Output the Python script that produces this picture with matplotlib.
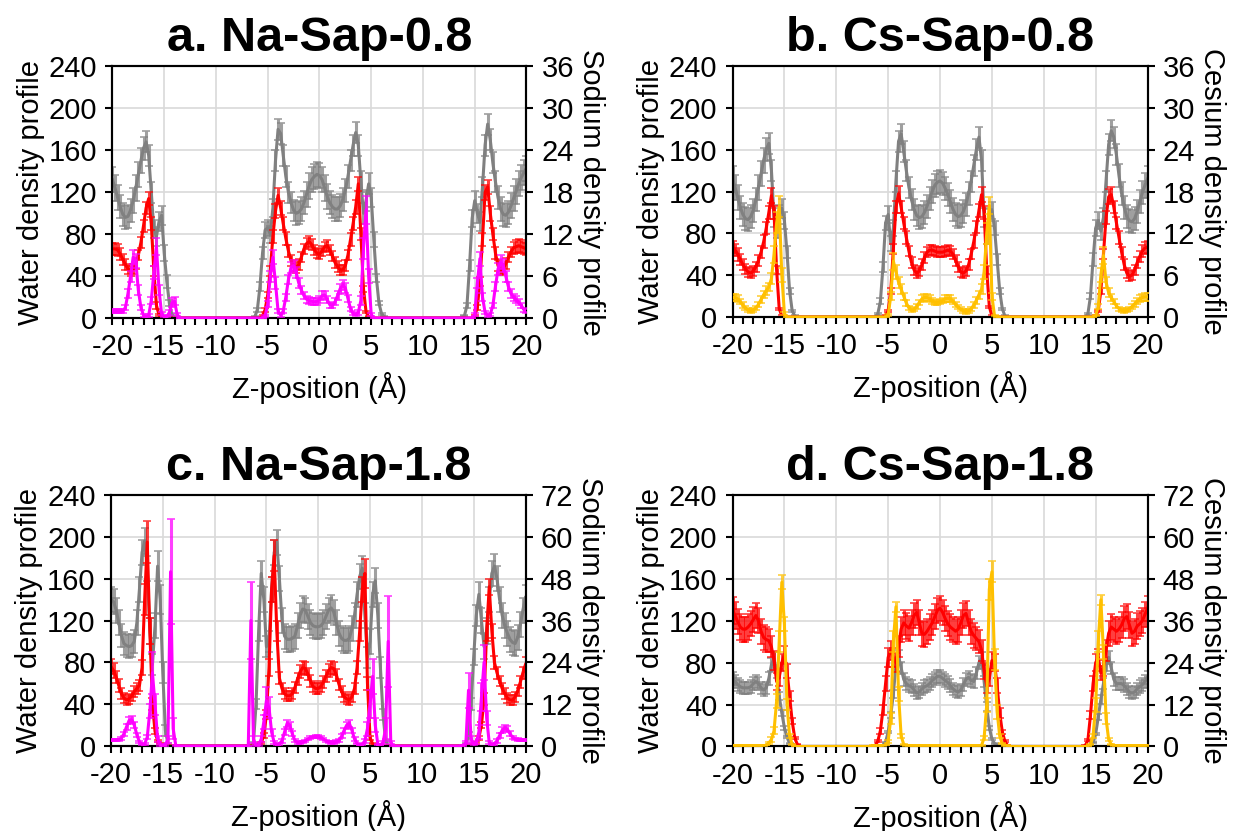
import numpy as np
import matplotlib.pyplot as plt
from matplotlib.colors import to_rgba
from matplotlib.ticker import MultipleLocator

plt.rcParams['font.family'] = 'Liberation Sans'
plt.rcParams['axes.unicode_minus'] = False

# z grid (Å), 0.25 Å bins
z = np.linspace(-20, 20, 161)

# ---------------- a. Na-Sap-0.8 ----------------
a_grey = [
    132, 124, 115, 106, 99, 96, 97, 103, 112, 124, 137, 150, 162, 168, 155, 120, 85, 78, 92, 98, 62, 35, 14, 3, 0, 0,
    0, 0, 0, 0, 0, 0, 0, 0, 0, 0, 0, 0, 0, 0, 0, 0, 0, 0, 0, 0, 0, 0, 0, 0, 0, 0, 0, 0,
    0, 1, 8, 30, 62, 84, 86, 80, 105, 150, 180, 176, 155, 135, 120, 110, 103, 100, 101, 104,
    110, 118, 126, 132, 135, 137, 136, 132, 124, 116, 110, 106, 104, 104, 107, 113, 122, 135, 150, 165,
    177, 165, 130, 100, 112, 128, 115, 75, 38, 14, 4, 1, 0,
    0, 0, 0, 0, 0, 0, 0, 0, 0, 0, 0, 0, 0, 0, 0, 0, 0, 0, 0, 0, 0, 0, 0, 0, 0, 0, 0, 0,
    0, 2, 12, 50, 95, 112, 100, 92, 125, 165, 185, 170, 148, 130, 115, 104, 99, 98, 101, 107, 114, 121, 128, 134, 139, 143,
]
a_grey_err = [
    12, 12, 12, 11, 11, 11, 11, 11, 12, 12, 12, 12, 11, 10, 10, 10, 9, 9, 9, 9, 8, 6, 3, 1, 0, 0,
    0, 0, 0, 0, 0, 0, 0, 0, 0, 0, 0, 0, 0, 0, 0, 0, 0, 0, 0, 0, 0, 0, 0, 0, 0, 0, 0, 0,
    0, 0.5, 2, 4, 6, 8, 8, 8, 9, 10, 10, 10, 10, 10, 10, 10, 10, 11, 11, 11,
    11, 12, 12, 12, 12, 12, 12, 12, 12, 12, 11, 11, 11, 11, 11, 11, 11, 11, 10, 10,
    10, 10, 10, 10, 10, 10, 9, 7, 4, 2, 1, 0.5, 0,
    0, 0, 0, 0, 0, 0, 0, 0, 0, 0, 0, 0, 0, 0, 0, 0, 0, 0, 0, 0, 0, 0, 0, 0, 0, 0, 0, 0,
    0, 0.5, 2, 5, 8, 9, 9, 9, 10, 10, 10, 10, 10, 10, 11, 11, 11, 11, 11, 12, 12, 12, 12, 12, 12, 12,
]
a_red = [
    66, 66, 65, 61, 56, 51, 47, 45, 47, 52, 60, 72, 88, 105, 114, 90, 45, 12, 3, 1, 0, 0, 0, 0, 0, 0,
    0, 0, 0, 0, 0, 0, 0, 0, 0, 0, 0, 0, 0, 0, 0, 0, 0, 0, 0, 0, 0, 0, 0, 0, 0, 0, 0, 0,
    0, 0, 0, 0, 2, 8, 22, 45, 78, 102, 117, 105, 90, 76, 64, 55, 50, 48, 51, 58,
    66, 71, 73, 70, 65, 62, 61, 64, 68, 69, 65, 59, 53, 49, 46, 46, 50, 60, 75, 90,
    106, 128, 80, 28, 6, 1, 0, 0, 0, 0, 0, 0, 0,
    0, 0, 0, 0, 0, 0, 0, 0, 0, 0, 0, 0, 0, 0, 0, 0, 0, 0, 0, 0, 0, 0, 0, 0, 0, 0, 0, 0,
    0, 0, 0, 0, 0, 2, 10, 35, 75, 120, 125, 100, 80, 62, 50, 46, 47, 52, 58, 63, 67, 68, 69, 68, 67, 66,
]
a_red_err = [
    6, 6, 6, 6, 5, 5, 5, 5, 5, 5, 5, 5, 6, 6, 6, 6, 5, 3, 1, 0.5, 0, 0, 0, 0, 0, 0,
    0, 0, 0, 0, 0, 0, 0, 0, 0, 0, 0, 0, 0, 0, 0, 0, 0, 0, 0, 0, 0, 0, 0, 0, 0, 0, 0, 0,
    0, 0, 0, 0, 1, 2, 3, 5, 6, 7, 7, 7, 6, 6, 6, 5, 5, 5, 5, 5,
    5, 5, 5, 5, 5, 5, 5, 5, 5, 5, 5, 5, 5, 5, 5, 5, 5, 5, 6, 6,
    7, 7, 6, 3, 1, 0.5, 0, 0, 0, 0, 0, 0, 0,
    0, 0, 0, 0, 0, 0, 0, 0, 0, 0, 0, 0, 0, 0, 0, 0, 0, 0, 0, 0, 0, 0, 0, 0, 0, 0, 0, 0,
    0, 0, 0, 0, 0, 1, 2, 4, 6, 7, 7, 7, 6, 6, 5, 5, 5, 5, 5, 5, 6, 6, 6, 6, 6, 6,
]
a_ion = [
    1.0, 1.0, 1.0, 1.0, 1.0, 1.5, 3.5, 6.0, 8.7, 8.2, 4.0, 1.5, 0.4, 0.2, 0.4, 2.5, 6.5, 10.2, 4.0, 0.6, 0.2, 0.2, 0.8, 2.2, 2.4, 0.5,
    0, 0, 0, 0, 0, 0, 0, 0, 0, 0, 0, 0, 0, 0, 0, 0, 0, 0, 0, 0, 0, 0, 0, 0, 0, 0, 0, 0,
    0, 0, 0, 0, 0, 0.3, 2, 6, 8.7, 5, 1, 0.4, 1, 3, 5.5, 7.2, 7.5, 6.5, 5, 4,
    3.2, 2.7, 2.5, 2.4, 2.3, 2.4, 2.6, 3.2, 3.3, 2.6, 1.9, 1.8, 2.3, 3.2, 4.2, 4.7, 4.3, 2.8, 1.3, 0.6,
    0.5, 0.8, 2.5, 10, 15.5, 6, 0.5, 0, 0, 0, 0, 0, 0,
    0, 0, 0, 0, 0, 0, 0, 0, 0, 0, 0, 0, 0, 0, 0, 0, 0, 0, 0, 0, 0, 0, 0, 0, 0, 0, 0, 0,
    0, 0, 0, 0, 0, 0.5, 5, 8.5, 3, 0.8, 0.3, 0.5, 1.8, 4.5, 7, 8, 7.5, 6, 4.5, 3.5, 3, 2.6, 2.3, 1.8, 1.2, 1.0,
]
a_ion_err = [
    0.3, 0.3, 0.3, 0.3, 0.3, 0.4, 0.6, 0.8, 1.0, 1.0, 0.7, 0.4, 0.2, 0.1, 0.2, 0.5, 0.9, 1.2, 0.7, 0.2, 0.1, 0.1, 0.3, 0.6, 0.6, 0.2,
    0, 0, 0, 0, 0, 0, 0, 0, 0, 0, 0, 0, 0, 0, 0, 0, 0, 0, 0, 0, 0, 0, 0, 0, 0, 0, 0, 0,
    0, 0, 0, 0, 0, 0.1, 0.4, 0.8, 1.0, 0.8, 0.3, 0.2, 0.3, 0.5, 0.7, 0.8, 0.8, 0.8, 0.7, 0.6,
    0.5, 0.5, 0.5, 0.5, 0.5, 0.5, 0.5, 0.6, 0.6, 0.5, 0.4, 0.4, 0.5, 0.6, 0.7, 0.7, 0.7, 0.5, 0.3, 0.2,
    0.2, 0.3, 0.6, 1.5, 2.0, 1.0, 0.2, 0, 0, 0, 0, 0, 0,
    0, 0, 0, 0, 0, 0, 0, 0, 0, 0, 0, 0, 0, 0, 0, 0, 0, 0, 0, 0, 0, 0, 0, 0, 0, 0, 0, 0,
    0, 0, 0, 0, 0, 0.2, 0.7, 1.0, 0.6, 0.2, 0.1, 0.2, 0.4, 0.7, 0.9, 1.0, 0.9, 0.8, 0.7, 0.6, 0.5, 0.5, 0.4, 0.4, 0.3, 0.3,
]

# ---------------- b. Cs-Sap-0.8 ----------------
b_grey = [
    132, 124, 114, 105, 98, 94, 93, 96, 102, 112, 124, 137, 150, 160, 166, 140, 95, 85, 98, 104, 92, 62, 25, 6, 1, 0,
    0, 0, 0, 0, 0, 0, 0, 0, 0, 0, 0, 0, 0, 0, 0, 0, 0, 0, 0, 0, 0, 0, 0, 0, 0, 0, 0, 0,
    0, 0, 3, 15, 48, 90, 98, 70, 85, 130, 168, 175, 158, 140, 124, 112, 103, 97, 95, 96,
    100, 106, 113, 120, 126, 129, 130, 128, 123, 117, 110, 103, 98, 96, 97, 101, 108, 118, 130, 145,
    160, 172, 150, 95, 78, 95, 102, 85, 55, 25, 8, 1, 0,
    0, 0, 0, 0, 0, 0, 0, 0, 0, 0, 0, 0, 0, 0, 0, 0, 0, 0, 0, 0, 0, 0, 0, 0, 0, 0, 0, 0,
    0, 0, 3, 20, 55, 85, 92, 82, 95, 130, 165, 178, 172, 155, 135, 118, 105, 96, 92, 91, 94, 101, 110, 119, 126, 132,
]
b_grey_err = [
    12, 12, 12, 11, 11, 11, 11, 11, 11, 11, 12, 12, 12, 11, 10, 10, 9, 9, 9, 9, 8, 6, 3, 1, 0.5, 0,
    0, 0, 0, 0, 0, 0, 0, 0, 0, 0, 0, 0, 0, 0, 0, 0, 0, 0, 0, 0, 0, 0, 0, 0, 0, 0, 0, 0,
    0, 0, 1, 3, 5, 7, 8, 7, 8, 10, 10, 10, 10, 10, 10, 10, 10, 10, 11, 11,
    11, 11, 11, 11, 11, 11, 11, 11, 11, 11, 11, 11, 11, 11, 11, 11, 11, 11, 10, 10,
    10, 10, 10, 9, 8, 8, 8, 7, 5, 3, 1, 0.5, 0,
    0, 0, 0, 0, 0, 0, 0, 0, 0, 0, 0, 0, 0, 0, 0, 0, 0, 0, 0, 0, 0, 0, 0, 0, 0, 0, 0, 0,
    0, 0, 1, 3, 6, 8, 8, 8, 9, 10, 10, 10, 10, 10, 11, 11, 11, 11, 11, 11, 11, 11, 11, 11, 12, 12,
]
b_red = [
    67, 64, 60, 55, 50, 46, 43, 42, 44, 48, 54, 62, 72, 85, 100, 116, 100, 45, 8, 1, 0, 0, 0, 0, 0, 0,
    0, 0, 0, 0, 0, 0, 0, 0, 0, 0, 0, 0, 0, 0, 0, 0, 0, 0, 0, 0, 0, 0, 0, 0, 0, 0, 0, 0,
    0, 0, 0, 0, 0, 1, 6, 25, 65, 105, 118, 105, 90, 76, 63, 52, 45, 42, 44, 50,
    57, 62, 64, 64, 63, 62, 62, 62, 63, 64, 63, 60, 54, 48, 43, 42, 44, 50, 60, 72,
    86, 102, 117, 100, 45, 10, 1, 0, 0, 0, 0, 0, 0,
    0, 0, 0, 0, 0, 0, 0, 0, 0, 0, 0, 0, 0, 0, 0, 0, 0, 0, 0, 0, 0, 0, 0, 0, 0, 0, 0, 0,
    0, 0, 0, 0, 0, 1, 6, 25, 60, 95, 115, 117, 105, 90, 76, 62, 50, 42, 39, 40, 45, 52, 58, 63, 66, 67,
]
b_red_err = [
    6, 6, 6, 5, 5, 5, 5, 5, 5, 5, 5, 6, 6, 6, 6, 7, 6, 4, 1, 0.5, 0, 0, 0, 0, 0, 0,
    0, 0, 0, 0, 0, 0, 0, 0, 0, 0, 0, 0, 0, 0, 0, 0, 0, 0, 0, 0, 0, 0, 0, 0, 0, 0, 0, 0,
    0, 0, 0, 0, 0, 0.5, 1, 3, 5, 6, 7, 6, 6, 6, 5, 5, 5, 5, 5, 5,
    5, 5, 5, 5, 5, 5, 5, 5, 5, 5, 5, 5, 5, 5, 5, 5, 5, 5, 5, 6,
    6, 6, 7, 6, 4, 1, 0.5, 0, 0, 0, 0, 0, 0,
    0, 0, 0, 0, 0, 0, 0, 0, 0, 0, 0, 0, 0, 0, 0, 0, 0, 0, 0, 0, 0, 0, 0, 0, 0, 0, 0, 0,
    0, 0, 0, 0, 0, 0.5, 1, 3, 5, 6, 7, 7, 6, 6, 6, 5, 5, 5, 5, 5, 5, 5, 5, 6, 6, 6,
]
b_ion = [
    2.8, 2.8, 2.6, 2.2, 1.7, 1.3, 1.0, 0.9, 1.0, 1.3, 1.8, 2.5, 3.2, 3.8, 4.3, 5.5, 9, 13.5, 15.8, 6, 0.5, 0, 0, 0, 0, 0,
    0, 0, 0, 0, 0, 0, 0, 0, 0, 0, 0, 0, 0, 0, 0, 0, 0, 0, 0, 0, 0, 0, 0, 0, 0, 0, 0, 0,
    0, 0, 0, 0, 0, 0, 0.3, 3, 8, 6.5, 5, 4, 3, 2, 1.3, 1.0, 1.1, 1.5, 2.1, 2.6,
    2.8, 2.8, 2.6, 2.3, 2.1, 2.1, 2.2, 2.4, 2.6, 2.7, 2.6, 2.3, 1.8, 1.4, 1.1, 0.9, 0.8, 0.9, 1.2, 1.7,
    2.4, 3.2, 4, 6.5, 12, 16, 3, 0.2, 0, 0, 0, 0, 0,
    0, 0, 0, 0, 0, 0, 0, 0, 0, 0, 0, 0, 0, 0, 0, 0, 0, 0, 0, 0, 0, 0, 0, 0, 0, 0, 0, 0,
    0, 0, 0, 0, 0, 0.2, 1.5, 6, 8.8, 5, 3.5, 2.8, 2.2, 1.6, 1.2, 1.0, 0.9, 1.0, 1.2, 1.5, 1.9, 2.3, 2.6, 2.8, 2.9, 2.9,
]
b_ion_err = [
    0.5, 0.5, 0.5, 0.4, 0.4, 0.3, 0.3, 0.3, 0.3, 0.3, 0.4, 0.5, 0.5, 0.6, 0.6, 0.8, 1.2, 1.5, 1.5, 1.0, 0.2, 0, 0, 0, 0, 0,
    0, 0, 0, 0, 0, 0, 0, 0, 0, 0, 0, 0, 0, 0, 0, 0, 0, 0, 0, 0, 0, 0, 0, 0, 0, 0, 0, 0,
    0, 0, 0, 0, 0, 0, 0.1, 0.6, 1.2, 1.0, 0.8, 0.7, 0.5, 0.4, 0.3, 0.3, 0.3, 0.3, 0.4, 0.5,
    0.5, 0.5, 0.5, 0.5, 0.4, 0.4, 0.4, 0.4, 0.5, 0.5, 0.5, 0.4, 0.4, 0.3, 0.3, 0.3, 0.3, 0.3, 0.3, 0.4,
    0.5, 0.6, 0.7, 1.0, 1.5, 1.2, 0.5, 0.1, 0, 0, 0, 0, 0,
    0, 0, 0, 0, 0, 0, 0, 0, 0, 0, 0, 0, 0, 0, 0, 0, 0, 0, 0, 0, 0, 0, 0, 0, 0, 0, 0, 0,
    0, 0, 0, 0, 0, 0.1, 0.4, 1.0, 1.2, 0.8, 0.6, 0.5, 0.4, 0.3, 0.3, 0.3, 0.3, 0.3, 0.3, 0.4, 0.4, 0.5, 0.5, 0.5, 0.6, 0.6,
]

# ---------------- c. Na-Sap-1.8 ----------------
c_grey = [
    140, 138, 130, 118, 106, 98, 96, 95, 96, 100, 118, 150, 185, 196, 170, 110, 78, 115, 172, 140, 70, 15, 2, 0, 0, 0,
    0, 0, 0, 0, 0, 0, 0, 0, 0, 0, 0, 0, 0, 0, 0, 0, 0, 0, 0, 0, 0, 0, 0, 0, 0, 0, 0, 0,
    0, 3, 40, 110, 165, 140, 95, 100, 150, 185, 195, 160, 120, 105, 102, 102, 103, 105, 115, 125,
    131, 130, 124, 118, 115, 114, 114, 115, 118, 124, 130, 132, 128, 118, 108, 103, 101, 101, 103, 112,
    125, 145, 162, 170, 125, 85, 100, 145, 158, 125, 75, 30, 5,
    0, 0, 0, 0, 0, 0, 0, 0, 0, 0, 0, 0, 0, 0, 0, 0, 0, 0, 0, 0, 0, 0, 0, 0, 0, 0, 0, 0,
    0, 0, 2, 10, 40, 85, 125, 145, 120, 95, 110, 140, 165, 172, 160, 140, 125, 115, 108, 102, 99, 98, 104, 116, 130, 142,
]
c_grey_err = [
    12, 12, 12, 12, 11, 11, 11, 11, 11, 11, 12, 12, 12, 12, 12, 12, 10, 12, 14, 14, 10, 5, 1, 0, 0, 0,
    0, 0, 0, 0, 0, 0, 0, 0, 0, 0, 0, 0, 0, 0, 0, 0, 0, 0, 0, 0, 0, 0, 0, 0, 0, 0, 0, 0,
    0, 1, 5, 10, 12, 12, 10, 10, 12, 12, 12, 12, 12, 12, 12, 12, 12, 12, 12, 12,
    12, 12, 12, 12, 12, 12, 12, 12, 12, 12, 12, 12, 12, 12, 12, 12, 12, 12, 12, 12,
    12, 12, 12, 12, 12, 10, 12, 12, 12, 12, 10, 5, 1,
    0, 0, 0, 0, 0, 0, 0, 0, 0, 0, 0, 0, 0, 0, 0, 0, 0, 0, 0, 0, 0, 0, 0, 0, 0, 0, 0, 0,
    0, 0, 1, 3, 6, 8, 10, 12, 12, 12, 12, 12, 12, 12, 12, 12, 12, 12, 12, 12, 12, 12, 12, 12, 12, 12,
]
c_red = [
    76, 72, 66, 58, 50, 46, 44, 45, 48, 52, 55, 58, 75, 140, 195, 110, 40, 14, 5, 2, 0, 0, 0, 0, 0, 0,
    0, 0, 0, 0, 0, 0, 0, 0, 0, 0, 0, 0, 0, 0, 0, 0, 0, 0, 0, 0, 0, 0, 0, 0, 0, 0, 0, 0,
    0, 0, 0, 1, 3, 10, 30, 75, 150, 182, 110, 65, 55, 50, 48, 48, 50, 56, 64, 71,
    75, 74, 69, 62, 57, 55, 55, 57, 61, 67, 72, 75, 74, 68, 59, 52, 47, 45, 44, 47,
    55, 75, 110, 150, 165, 60, 8, 2, 0, 0, 0, 0, 0,
    0, 0, 0, 0, 0, 0, 0, 0, 0, 0, 0, 0, 0, 0, 0, 0, 0, 0, 0, 0, 0, 0, 0, 0, 0, 0, 0, 0,
    0, 0, 0, 0, 0, 1, 3, 8, 20, 45, 110, 152, 110, 80, 70, 62, 55, 50, 46, 44, 44, 47, 53, 61, 70, 78,
]
c_red_err = [
    7, 7, 6, 6, 5, 5, 5, 5, 5, 5, 5, 5, 7, 15, 20, 12, 6, 3, 1, 0.5, 0, 0, 0, 0, 0, 0,
    0, 0, 0, 0, 0, 0, 0, 0, 0, 0, 0, 0, 0, 0, 0, 0, 0, 0, 0, 0, 0, 0, 0, 0, 0, 0, 0, 0,
    0, 0, 0, 0.5, 1, 2, 4, 8, 12, 15, 10, 6, 5, 5, 5, 5, 5, 5, 6, 6,
    6, 6, 6, 6, 5, 5, 5, 5, 6, 6, 6, 6, 6, 6, 5, 5, 5, 5, 5, 5,
    5, 6, 10, 12, 14, 6, 2, 0.5, 0, 0, 0, 0, 0,
    0, 0, 0, 0, 0, 0, 0, 0, 0, 0, 0, 0, 0, 0, 0, 0, 0, 0, 0, 0, 0, 0, 0, 0, 0, 0, 0, 0,
    0, 0, 0, 0, 0, 0.5, 1, 2, 3, 6, 10, 8, 7, 6, 6, 5, 5, 5, 5, 5, 5, 5, 5, 6, 6, 7,
]
c_ion = [
    1.7, 1.7, 1.7, 1.8, 2.2, 3.5, 5.5, 7.3, 7.6, 6, 3.2, 1.2, 0.5, 0.6, 2.5, 10, 21, 12, 2, 0.3, 0.2, 0.3, 2, 50, 5, 0.2,
    0, 0, 0, 0, 0, 0, 0, 0, 0, 0, 0, 0, 0, 0, 0, 0, 0, 0, 0, 0, 0, 0, 0, 0, 0, 0, 0, 0,
    36, 2, 0.2, 0.3, 2, 7, 13, 11, 4, 1, 0.5, 0.6, 1.5, 4, 6.5, 6, 3.5, 1.5, 1.0, 1.0,
    1.2, 1.5, 2.0, 2.4, 2.6, 2.7, 2.7, 2.5, 2.0, 1.5, 1.2, 1.0, 1.0, 1.3, 1.6, 2.8, 4.5, 6.0, 6.5, 4.5,
    2, 0.7, 0.3, 0.5, 1.5, 5, 12, 20, 6, 0.5, 0.3, 1, 5,
    30, 1, 0, 0, 0, 0, 0, 0, 0, 0, 0, 0, 0, 0, 0, 0, 0, 0, 0, 0, 0, 0, 0, 0, 0, 0, 0, 0,
    0, 0.2, 1, 16, 2, 0.5, 1, 4, 14, 24, 8, 1, 0.5, 0.7, 1.5, 3, 4.5, 5.2, 4.8, 3.5, 2.5, 2, 1.8, 1.7, 1.7, 1.7,
]
c_ion_err = [
    0.3, 0.3, 0.3, 0.3, 0.4, 0.6, 0.8, 1.0, 1.0, 0.8, 0.5, 0.3, 0.2, 0.2, 0.6, 2, 6, 3, 0.8, 0.2, 0.1, 0.2, 1, 15, 3, 0.1,
    0, 0, 0, 0, 0, 0, 0, 0, 0, 0, 0, 0, 0, 0, 0, 0, 0, 0, 0, 0, 0, 0, 0, 0, 0, 0, 0, 0,
    11, 1, 0.1, 0.2, 0.8, 2, 4, 3, 1, 0.3, 0.2, 0.2, 0.5, 0.8, 1.0, 1.0, 0.7, 0.4, 0.3, 0.3,
    0.3, 0.3, 0.4, 0.4, 0.4, 0.4, 0.4, 0.4, 0.4, 0.3, 0.3, 0.3, 0.3, 0.3, 0.4, 0.6, 0.8, 1.0, 1.0, 0.8,
    0.5, 0.2, 0.1, 0.2, 0.5, 2, 4, 5, 2, 0.2, 0.1, 0.5, 3,
    13, 0.5, 0, 0, 0, 0, 0, 0, 0, 0, 0, 0, 0, 0, 0, 0, 0, 0, 0, 0, 0, 0, 0, 0, 0, 0, 0, 0,
    0, 0.1, 0.5, 5, 1, 0.2, 0.5, 2, 4, 5, 2, 0.5, 0.2, 0.3, 0.5, 0.7, 0.9, 0.9, 0.9, 0.7, 0.5, 0.4, 0.4, 0.3, 0.3, 0.3,
]

# ---------------- d. Cs-Sap-1.8 ----------------
d_grey = [
    65, 62, 59, 57, 56, 56, 56, 57, 60, 62, 60, 56, 54, 56, 65, 78, 84, 70, 48, 32, 18, 9, 3, 1, 0, 0,
    0, 0, 0, 0, 0, 0, 0, 0, 0, 0, 0, 0, 0, 0, 0, 0, 0, 0, 0, 0, 0, 0, 0, 0, 0, 0, 0, 0,
    0, 0, 0, 0, 1, 4, 14, 30, 50, 78, 86, 75, 64, 60, 58, 57, 54, 51, 52, 55,
    57, 58, 60, 63, 65, 67, 67, 65, 63, 61, 58, 55, 53, 52, 54, 59, 64, 66, 63, 62,
    70, 80, 84, 62, 38, 18, 7, 3, 1, 0, 0, 0, 0,
    0, 0, 0, 0, 0, 0, 0, 0, 0, 0, 0, 0, 0, 0, 0, 0, 0, 0, 0, 0, 0, 0, 0, 0, 0, 0, 0, 0,
    0, 0, 0, 1, 4, 12, 28, 45, 60, 78, 85, 75, 64, 60, 60, 60, 58, 55, 52, 51, 52, 55, 57, 59, 62, 66,
]
d_grey_err = [
    6, 6, 6, 6, 6, 6, 6, 6, 6, 6, 6, 6, 6, 6, 6, 6, 6, 5, 4, 3, 2, 1, 0.5, 0.2, 0, 0,
    0, 0, 0, 0, 0, 0, 0, 0, 0, 0, 0, 0, 0, 0, 0, 0, 0, 0, 0, 0, 0, 0, 0, 0, 0, 0, 0, 0,
    0, 0, 0, 0, 0.2, 0.5, 1, 3, 4, 6, 6, 6, 6, 6, 6, 6, 6, 6, 6, 6,
    6, 6, 6, 6, 6, 6, 6, 6, 6, 6, 6, 6, 6, 6, 6, 6, 6, 6, 6, 6,
    6, 6, 6, 5, 4, 2, 1, 0.5, 0.2, 0, 0, 0, 0,
    0, 0, 0, 0, 0, 0, 0, 0, 0, 0, 0, 0, 0, 0, 0, 0, 0, 0, 0, 0, 0, 0, 0, 0, 0, 0, 0, 0,
    0, 0, 0, 0.2, 0.5, 1, 3, 4, 5, 6, 6, 6, 6, 6, 6, 6, 6, 6, 6, 6, 6, 6, 6, 6, 6, 6,
]
d_red = [
    130, 125, 119, 114, 112, 112, 114, 117, 121, 125, 120, 110, 104, 102, 101, 95, 82, 62, 66, 80, 88, 72, 48, 24, 8, 2,
    0, 0, 0, 0, 0, 0, 0, 0, 0, 0, 0, 0, 0, 0, 0, 0, 0, 0, 0, 0, 0, 0, 0, 0, 0, 0, 0, 0,
    0, 1, 5, 15, 35, 60, 85, 92, 85, 80, 95, 112, 118, 115, 113, 118, 125, 128, 118, 108,
    107, 110, 114, 118, 124, 130, 132, 128, 122, 117, 114, 112, 110, 112, 118, 125, 127, 118, 110, 106,
    103, 100, 92, 72, 58, 65, 82, 80, 58, 32, 14, 5, 1,
    0, 0, 0, 0, 0, 0, 0, 0, 0, 0, 0, 0, 0, 0, 0, 0, 0, 0, 0, 0, 0, 0, 0, 0, 0, 0, 0, 0,
    0, 1, 6, 30, 60, 80, 85, 70, 75, 92, 108, 114, 112, 110, 112, 116, 122, 124, 116, 108, 110, 115, 117, 120, 126, 132,
]
d_red_err = [
    13, 13, 12, 12, 12, 12, 12, 12, 12, 12, 12, 12, 12, 12, 11, 10, 9, 8, 8, 8, 8, 7, 5, 3, 1, 0.5,
    0, 0, 0, 0, 0, 0, 0, 0, 0, 0, 0, 0, 0, 0, 0, 0, 0, 0, 0, 0, 0, 0, 0, 0, 0, 0, 0, 0,
    0, 0.5, 1, 3, 5, 7, 9, 9, 9, 9, 10, 12, 12, 12, 12, 12, 12, 12, 12, 12,
    12, 12, 12, 12, 12, 12, 12, 12, 12, 12, 12, 12, 12, 12, 12, 12, 12, 12, 12, 12,
    11, 11, 10, 8, 7, 7, 8, 8, 7, 5, 2, 1, 0.5,
    0, 0, 0, 0, 0, 0, 0, 0, 0, 0, 0, 0, 0, 0, 0, 0, 0, 0, 0, 0, 0, 0, 0, 0, 0, 0, 0, 0,
    0, 0.5, 1, 4, 7, 8, 8, 7, 8, 10, 12, 12, 12, 12, 12, 12, 12, 12, 12, 12, 12, 12, 12, 12, 12, 12,
]
d_ion = [
    0.2, 0.2, 0.2, 0.2, 0.2, 0.2, 0.2, 0.2, 0.2, 0.2, 0.2, 0.2, 0.2, 0.4, 1, 2, 4.5, 13, 30, 47, 35, 12, 3, 0.6, 0.1, 0,
    0, 0, 0, 0, 0, 0, 0, 0, 0, 0, 0, 0, 0, 0, 0, 0, 0, 0, 0, 0, 0, 0, 0, 0, 0, 0, 0, 0,
    0.2, 0.2, 0.2, 0.2, 0.2, 0.4, 1.5, 8, 30, 40, 15, 3, 0.6, 0.3, 0.2, 0.2, 0.2, 0.2, 0.2, 0.2,
    0.2, 0.2, 0.2, 0.2, 0.2, 0.2, 0.2, 0.2, 0.2, 0.2, 0.2, 0.2, 0.2, 0.2, 0.2, 0.2, 0.2, 0.2, 0.2, 0.2,
    0.2, 0.2, 0.3, 2.5, 12, 45, 50, 25, 10, 3, 0.8, 0.3, 0.2,
    0, 0, 0, 0, 0, 0, 0, 0, 0, 0, 0, 0, 0, 0, 0, 0, 0, 0, 0, 0, 0, 0, 0, 0, 0, 0, 0, 0,
    0, 0, 0.1, 0.5, 3, 12, 30, 42, 27, 8, 2, 0.6, 0.3, 0.2, 0.2, 0.2, 0.2, 0.2, 0.2, 0.2, 0.2, 0.2, 0.2, 0.2, 0.2, 0.2,
]
d_ion_err = [
    0.1, 0.1, 0.1, 0.1, 0.1, 0.1, 0.1, 0.1, 0.1, 0.1, 0.1, 0.1, 0.1, 0.1, 0.3, 0.6, 1, 2, 3, 2, 2, 1.5, 0.5, 0.2, 0, 0,
    0, 0, 0, 0, 0, 0, 0, 0, 0, 0, 0, 0, 0, 0, 0, 0, 0, 0, 0, 0, 0, 0, 0, 0, 0, 0, 0, 0,
    0.1, 0.1, 0.1, 0.1, 0.1, 0.1, 0.4, 1.5, 3, 1.5, 2, 0.6, 0.2, 0.1, 0.1, 0.1, 0.1, 0.1, 0.1, 0.1,
    0.1, 0.1, 0.1, 0.1, 0.1, 0.1, 0.1, 0.1, 0.1, 0.1, 0.1, 0.1, 0.1, 0.1, 0.1, 0.1, 0.1, 0.1, 0.1, 0.1,
    0.1, 0.1, 0.1, 0.5, 2, 3, 3, 3, 2, 0.6, 0.2, 0.1, 0.1,
    0, 0, 0, 0, 0, 0, 0, 0, 0, 0, 0, 0, 0, 0, 0, 0, 0, 0, 0, 0, 0, 0, 0, 0, 0, 0, 0, 0,
    0, 0, 0, 0.1, 0.5, 2, 3, 1.5, 2, 1.5, 0.5, 0.2, 0.1, 0.1, 0.1, 0.1, 0.1, 0.1, 0.1, 0.1, 0.1, 0.1, 0.1, 0.1, 0.1, 0.1,
]

GREY = '#808080'
RED = '#ff0000'
MAGENTA = '#ff00ff'
GOLD = '#ffc000'


def profile(ax, y, err, color, zo):
    # thick bars with wide caps, so neighbouring bins merge into a band
    ax.errorbar(z, y, yerr=err, color=color, lw=2.2, elinewidth=2.2,
                ecolor=to_rgba(color, 0.75), capsize=3.2, capthick=1.2, zorder=zo)


def draw_panel(rect, title, grey, grey_err, red, red_err, ion, ion_err,
               ion_color, ion_name, ion_top):
    ax = fig.add_axes(rect)
    ax.set_axisbelow(True)
    profile(ax, grey, grey_err, GREY, 2)
    profile(ax, red, red_err, RED, 3)
    ax.set_xlim(-20, 20)
    ax.set_ylim(0, 240)
    ax.xaxis.set_major_locator(MultipleLocator(5))
    ax.xaxis.set_minor_locator(MultipleLocator(1))
    ax.yaxis.set_major_locator(MultipleLocator(40))
    ax.grid(True, which='major', color='#d9d9d9', lw=1.2)
    ax.tick_params(axis='both', which='both', direction='out', length=5, width=1.5,
                   labelsize=21, pad=6, top=False, right=False)
    ax.set_xlabel('Z-position (Å)', fontsize=21, labelpad=8)
    ax.set_ylabel('Water density profile', fontsize=21, labelpad=3)
    ax.set_title(title, fontsize=35, fontweight='bold', pad=11)

    ax2 = ax.twinx()
    profile(ax2, ion, ion_err, ion_color, 3)
    ax2.set_ylim(0, ion_top)
    ax2.yaxis.set_major_locator(MultipleLocator(ion_top / 6))
    ax2.tick_params(axis='y', direction='out', length=5, width=1.5, labelsize=21, pad=6)
    ax2.set_ylabel(ion_name, fontsize=21, rotation=270, va='bottom', labelpad=2)
    for a in (ax, ax2):
        for s in a.spines.values():
            s.set_color('black')
            s.set_linewidth(1.5)
    return ax, ax2


fig = plt.figure(figsize=(12.33, 8.31), dpi=100)

draw_panel([0.0912, 0.6173, 0.3358, 0.3027], 'a. Na-Sap-0.8',
           a_grey, a_grey_err, a_red, a_red_err, a_ion, a_ion_err,
           MAGENTA, 'Sodium density profile', 36)
draw_panel([0.5941, 0.6185, 0.3366, 0.3021], 'b. Cs-Sap-0.8',
           b_grey, b_grey_err, b_red, b_red_err, b_ion, b_ion_err,
           GOLD, 'Cesium density profile', 36)
draw_panel([0.0900, 0.1023, 0.3362, 0.3020], 'c. Na-Sap-1.8',
           c_grey, c_grey_err, c_red, c_red_err, c_ion, c_ion_err,
           MAGENTA, 'Sodium density profile', 72)
draw_panel([0.5941, 0.1017, 0.3366, 0.3026], 'd. Cs-Sap-1.8',
           d_grey, d_grey_err, d_red, d_red_err, d_ion, d_ion_err,
           GOLD, 'Cesium density profile', 72)

fig.savefig('out.png', dpi=100)
